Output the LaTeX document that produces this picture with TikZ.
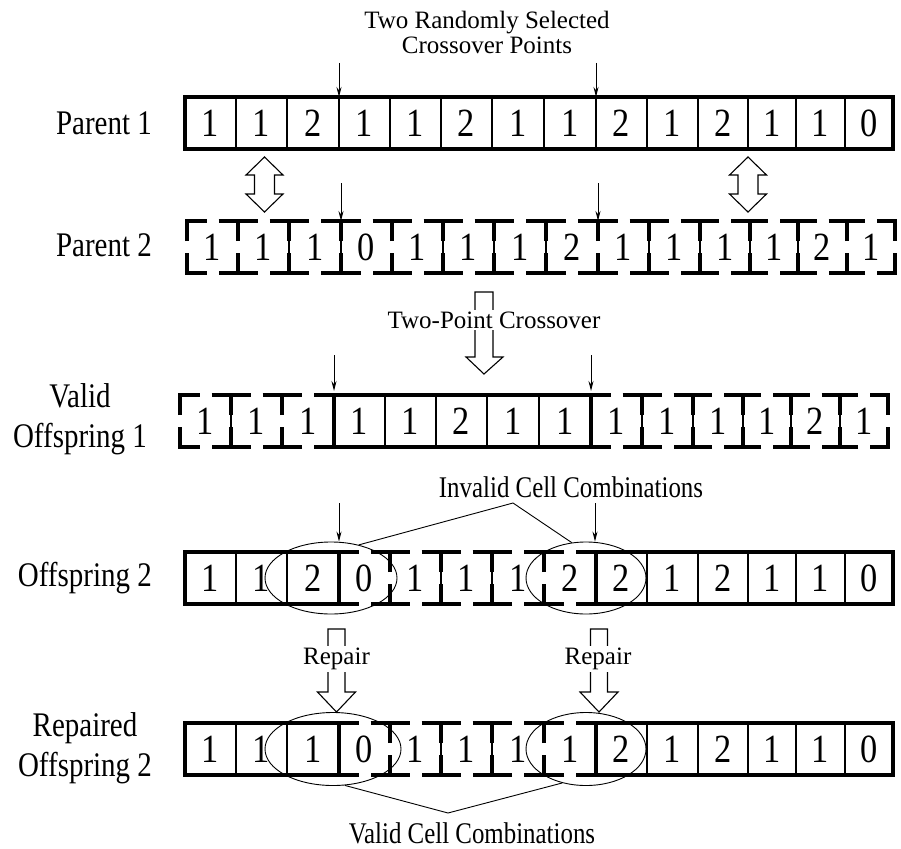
\documentclass[tikz,border=0pt]{standalone}
\usepackage{fontspec}
\setmainfont{Liberation Serif}
\newfontfamily\labfont{Liberation Serif}[FakeStretch=0.84]
\newfontfamily\digfont{Liberation Serif}[FakeStretch=0.86]
\newfontfamily\combfont{Liberation Serif}[FakeStretch=0.83]
\usetikzlibrary{shapes.geometric,arrows.meta,calc}

\tikzset{
  thickln/.style={line width=3.4pt, line cap=rect},
  thinln/.style={line width=1.1pt},
  dashln/.style={line width=3.4pt, line cap=butt, line join=miter},
  digit/.style={font=\fontsize{40}{42}\digfont, inner sep=0pt},
  rowlabel/.style={font=\fontsize{34.5}{40}\labfont, align=center, inner sep=0pt},
  note/.style={font=\fontsize{25}{26}\selectfont, align=center, inner sep=0pt},
  comb/.style={font=\fontsize{30}{32}\combfont, inner sep=0pt},
  ell/.style={draw, ellipse, line width=0.9pt, inner sep=0pt},
  cut/.style={-{Stealth[length=10pt,width=5pt]}, line width=1pt},
  hollow/.style={draw, line width=1.1pt, line join=miter, fill=white},
  mask/.style={fill=white, inner sep=2pt},
}

\newcommand\mkrow[3]{%
  \foreach \xx [count=\ii from 0] in {185,236,287,339,390,441,492,544,596,647,698,748,796,845,893} {
    \coordinate (#1t\ii) at ({\xx+#2},{#3});
    \coordinate (#1b\ii) at ({\xx+#2},{#3+52});
  }}
\newcommand\rowdigits[2]{%
  \foreach \d [count=\ii] in {#2} {
    \pgfmathtruncatemacro\jj{\ii-1}
    \node[digit] (#1d\ii) at ($(#1t\jj)!0.5!(#1b\ii)$) {\d};
  }}
\newcommand\solidseg[3]{%
  \foreach \k in {#2,...,#3} {\draw[thinln] (#1t\k) -- (#1b\k);}
  \draw[thickln] (#1t#2) -- (#1t#3);
  \draw[thickln] (#1b#2) -- (#1b#3);
}
\newcommand\dcell[3]{%
  \draw[dashln] ($(#1t#2)!0.5!(#1b#2)+(0,-6)$) -- (#1t#2) -- ($(#1t#2)!0.5!(#1t#3)+(-6,0)$);
  \draw[dashln] ($(#1t#2)!0.5!(#1t#3)+(6,0)$) -- (#1t#3) -- ($(#1t#3)!0.5!(#1b#3)+(0,-6)$);
  \draw[dashln] ($(#1t#3)!0.5!(#1b#3)+(0,6)$) -- (#1b#3) -- ($(#1b#2)!0.5!(#1b#3)+(6,0)$);
  \draw[dashln] ($(#1b#2)!0.5!(#1b#3)+(-6,0)$) -- (#1b#2) -- ($(#1t#2)!0.5!(#1b#2)+(0,6)$);
}

\begin{document}
\begin{tikzpicture}[x=1pt,y=-1pt]
\useasboundingbox (0,0) rectangle (901,848);

\mkrow{P1}{0}{97}
\mkrow{P2}{2}{221}
\mkrow{O1}{-5}{395}
\mkrow{O2}{0}{552}
\mkrow{R2}{0}{723}

% ---------- labels ----------
\node[note] (title) at (487,32) {Two Randomly Selected\\[-1pt]Crossover Points};
\node[rowlabel, anchor=east] (lp1) at (152,123) {Parent 1};
\node[rowlabel, anchor=east] (lp2) at (152,245) {Parent 2};
\node[rowlabel] (lo1) at (80,419) {Valid\\Offspring 1};
\node[rowlabel, anchor=east] (lo2) at (152,578) {Offspring 2};
\node[rowlabel] (lr2) at (85,748) {Repaired\\Offspring 2};

% ---------- Parent 1 ----------
\solidseg{P1}{0}{14}
\draw[thickln] (P1t0) -- (P1b0) (P1t14) -- (P1b14);
\rowdigits{P1}{1,1,2,1,1,2,1,1,2,1,2,1,1,0}
\coordinate (c1a) at ($(P1t3)+(0,-34)$);
\coordinate (c1b) at ($(P1t8)+(0,-34)$);
\draw[cut] (c1a) -- (P1t3);
\draw[cut] (c1b) -- (P1t8);

% ---------- Parent 2 ----------
\foreach \a [evaluate=\a as \b using int(\a+1)] in {0,...,13} {\dcell{P2}{\a}{\b}}
\foreach \k in {2,3,5,6,7,9,10,11,12} {\draw[thinln] (P2t\k) -- (P2b\k);}
\rowdigits{P2}{1,1,1,0,1,1,1,2,1,1,1,1,2,1}
\coordinate (c2a) at ($(P2t3)+(0,-38)$);
\coordinate (c2b) at ($(P2t8)+(0,-38)$);
\draw[cut] (c2a) -- (P2t3);
\draw[cut] (c2b) -- (P2t8);

% swap arrows
\foreach \cx in {264.5,748} {
  \draw[hollow] (\cx,157) -- (\cx+18.5,175) -- (\cx+10,175) -- (\cx+10,194) -- (\cx+18.5,194)
    -- (\cx,212) -- (\cx-18.5,194) -- (\cx-10,194) -- (\cx-10,175) -- (\cx-18.5,175) -- cycle;
}

% two-point crossover arrow
\draw[hollow] (475,292) -- (493,292) -- (493,357) -- (503,357) -- (484,374) -- (466,357) -- (475,357) -- cycle;
\node[note, mask] (tpc) at (494,320) {Two-Point Crossover};

% ---------- Valid Offspring 1 ----------
\foreach \a/\b in {0/1,1/2,2/3,8/9,9/10,10/11,11/12,12/13,13/14} {\dcell{O1}{\a}{\b}}
\foreach \k in {1,9,10,11,12,13} {\draw[thinln] (O1t\k) -- (O1b\k);}
\solidseg{O1}{3}{8}
\draw[thickln] (O1t3) -- (O1b3) (O1t8) -- (O1b8);
\rowdigits{O1}{1,1,1,1,1,2,1,1,1,1,1,1,2,1}
\coordinate (c3a) at ($(O1t3)+(0,-40)$);
\coordinate (c3b) at ($(O1t8)+(0,-40)$);
\draw[cut] (c3a) -- ($(O1t3)+(0,-4)$);
\draw[cut] (c3b) -- ($(O1t8)+(0,-4)$);

% ---------- Offspring 2 ----------
\solidseg{O2}{0}{3}
\solidseg{O2}{8}{14}
\foreach \a/\b in {3/4,4/5,5/6,6/7,7/8} {\dcell{O2}{\a}{\b}}
\foreach \k in {5,6} {\draw[thinln] (O2t\k) -- (O2b\k);}
\draw[thickln] (O2t0) -- (O2b0) (O2t3) -- (O2b3) (O2t8) -- (O2b8) (O2t14) -- (O2b14);
\rowdigits{O2}{1,1,2,0,1,1,1,2,2,1,2,1,1,0}
\node[ell, minimum width=132pt, minimum height=72pt] (eO2a) at (331,578) {};
\node[ell, minimum width=120pt, minimum height=72pt] (eO2b) at (586,578) {};
\coordinate (c4a) at (339,503);
\coordinate (c4b) at (595,503);
\draw[cut] (c4a) -- (c4a |- eO2a.north);
\draw[cut] (c4b) -- (c4b |- eO2b.north);

\node[comb] (inv) at (571,487) {Invalid Cell Combinations};
\coordinate (apx1) at (513,503);
\draw[line width=0.9pt] (eO2a.50) -- (apx1) -- (eO2b.112);

% repair arrows
\foreach \cx in {336.5,599} {
  \draw[hollow] (\cx-8.5,629) -- (\cx+8.5,629) -- (\cx+8.5,692) -- (\cx+19,692) -- (\cx,712)
    -- (\cx-19,692) -- (\cx-8.5,692) -- cycle;
}
\node[note, mask] (rep1) at (336.5,659) {Repair};
\node[note, mask] (rep2) at (598,659) {Repair};

% ---------- Repaired Offspring 2 ----------
\solidseg{R2}{0}{3}
\solidseg{R2}{8}{14}
\foreach \a/\b in {3/4,4/5,5/6,6/7,7/8} {\dcell{R2}{\a}{\b}}
\foreach \k in {5,6} {\draw[thinln] (R2t\k) -- (R2b\k);}
\draw[thickln] (R2t0) -- (R2b0) (R2t3) -- (R2b3) (R2t8) -- (R2b8) (R2t14) -- (R2b14);
\rowdigits{R2}{1,1,1,0,1,1,1,1,2,1,2,1,1,0}
\node[ell, minimum width=136pt, minimum height=73pt] (eR2a) at (333,749) {};
\node[ell, minimum width=120pt, minimum height=73pt] (eR2b) at (586,749) {};

\node[comb] (val) at (472,833) {Valid Cell Combinations};
\coordinate (apx2) at (448,813);
\draw[line width=0.9pt] (eR2a.-72) -- (apx2) -- (eR2b.-125);

\end{tikzpicture}
\end{document}
